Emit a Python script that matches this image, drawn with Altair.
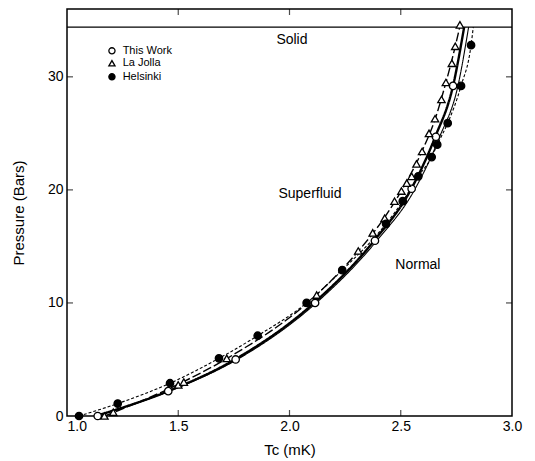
import altair as alt
import pandas as pd

# ---- data ----
tw_x = [1.138, 1.455, 1.758, 2.115, 2.384, 2.549, 2.658, 2.735]
tw_p = [0.0, 2.2, 5.0, 10.0, 15.5, 20.1, 24.7, 29.2]

lj_x = [1.168, 1.208, 1.500, 1.525, 1.718, 2.122, 2.309, 2.374, 2.428, 2.472, 2.503,
        2.527, 2.549, 2.571, 2.596, 2.627, 2.654, 2.683, 2.703, 2.730, 2.745, 2.766]
lj_p = [0.0, 0.33, 2.75, 3.0, 5.1, 10.7, 14.6, 16.2, 17.5, 19.0, 19.9,
        20.6, 21.2, 22.3, 23.4, 25.0, 26.3, 28.0, 29.5, 31.2, 32.7, 34.6]

he_x = [1.054, 1.228, 1.463, 1.683, 1.857, 2.077, 2.237, 2.434, 2.509, 2.579,
        2.639, 2.664, 2.711, 2.771, 2.816]
he_p = [0.0, 1.1, 2.9, 5.1, 7.1, 10.0, 12.9, 17.0, 19.0, 21.2,
        22.9, 24.0, 25.9, 29.2, 32.8]

# fitted curves
fit_tw_x = [1.13, 1.455, 1.755, 2.11, 2.38, 2.545, 2.655, 2.735, 2.785]
fit_tw_p = [0.0, 2.2, 5.0, 10.0, 15.5, 20.0, 24.7, 29.2, 34.4]
fit_tw2_x = [1.13, 1.46, 1.765, 2.12, 2.392, 2.562, 2.675, 2.757, 2.805]
fit_tw2_p = [0.0, 2.2, 5.0, 10.0, 15.5, 20.0, 24.7, 29.2, 34.4]
fit_lj_x = [1.17, 1.52, 1.72, 2.12, 2.31, 2.425, 2.505, 2.595, 2.655, 2.703, 2.745, 2.765]
fit_lj_p = [0.0, 3.0, 5.1, 10.7, 14.6, 17.5, 20.0, 23.4, 26.3, 29.5, 32.7, 34.4]
fit_he_x = [1.054, 1.228, 1.463, 1.683, 1.857, 2.077, 2.237, 2.434, 2.509, 2.579,
            2.639, 2.664, 2.711, 2.771, 2.816, 2.826]
fit_he_p = [0.0, 1.1, 2.9, 5.1, 7.1, 10.0, 12.9, 17.0, 19.0, 21.2,
            22.9, 24.0, 25.9, 29.2, 32.8, 34.4]

solid_line_p = 34.4
x_ticks = [1.5, 2.0, 2.5]
y_ticks = [10, 20, 30]
region_labels = ["Solid", "Superfluid", "Normal"]
region_x = [2.011, 2.092, 2.577]
region_p = [33.3, 19.6, 13.4]

series_order = ["This Work", "La Jolla", "Helsinki"]
legend_p = [32.3, 31.2, 30.0]
legend_marker_x = 1.202
legend_text_x = 1.25

FONT = "Liberation Sans"
XD = [1.0, 3.0]
YD = [0, 36]

shape_scale = alt.Scale(domain=series_order, range=["circle", "triangle-up", "circle"])
fill_scale = alt.Scale(domain=series_order, range=["white", "white", "black"])

pts = pd.DataFrame(
    [{"Tc": x, "P": p, "series": "This Work"} for x, p in zip(tw_x, tw_p)]
    + [{"Tc": x, "P": p, "series": "La Jolla"} for x, p in zip(lj_x, lj_p)]
    + [{"Tc": x, "P": p, "series": "Helsinki"} for x, p in zip(he_x, he_p)]
)
leg = pd.DataFrame({"series": series_order, "P": legend_p,
                    "Tc": [legend_marker_x] * 3, "Tt": [legend_text_x] * 3})

xs = alt.Scale(domain=XD, nice=False, zero=False)
ys = alt.Scale(domain=YD, nice=False, zero=True)

xaxis = alt.Axis(values=[1.0, 1.5, 2.0, 2.5, 3.0], format=".1f", ticks=False, domain=False,
                 grid=False, labelFontSize=14, labelFont=FONT, labelColor="black",
                 labelPadding=3, title="Tc (mK)", titleFont=FONT, titleFontSize=15,
                 titleFontWeight="normal", titleColor="black", titlePadding=9,
                 labelAlign=alt.condition("datum.value == 1", alt.value("left"), alt.value("center")))
yaxis = alt.Axis(values=[0, 10, 20, 30], ticks=False, domain=False, grid=False,
                 labelFontSize=14, labelFont=FONT, labelColor="black", labelPadding=4,
                 title="Pressure (Bars)", titleFont=FONT, titleFontSize=15,
                 titleFontWeight="normal", titleColor="black", titlePadding=21)

def line_layer(xv, pv, dash, width):
    df = pd.DataFrame({"Tc": xv, "P": pv, "o": list(range(len(xv)))})
    return alt.Chart(df).mark_line(color="black", strokeWidth=width, strokeDash=dash,
                                   interpolate="monotone").encode(
        x=alt.X("Tc:Q", scale=xs, axis=xaxis),
        y=alt.Y("P:Q", scale=ys, axis=yaxis),
        order="o:Q")

l_tw = line_layer(fit_tw_x, fit_tw_p, [1, 0], 2.4)
l_tw2 = line_layer(fit_tw2_x, fit_tw2_p, [1, 0], 1.1)
l_lj = line_layer(fit_lj_x, fit_lj_p, [9, 3], 1.4)
l_he = line_layer(fit_he_x, fit_he_p, [3, 2], 1.1)

points = alt.Chart(pts).mark_point(filled=True, size=55, stroke="black", strokeWidth=1.3,
                                   opacity=1).encode(
    x=alt.X("Tc:Q", scale=xs),
    y=alt.Y("P:Q", scale=ys),
    shape=alt.Shape("series:N", scale=shape_scale, legend=None),
    fill=alt.Fill("series:N", scale=fill_scale, legend=None),
)

leg_pts = alt.Chart(leg).mark_point(filled=True, size=38, stroke="black", strokeWidth=1.3,
                                    opacity=1).encode(
    x=alt.X("Tc:Q", scale=xs),
    y=alt.Y("P:Q", scale=ys),
    shape=alt.Shape("series:N", scale=shape_scale, legend=None),
    fill=alt.Fill("series:N", scale=fill_scale, legend=None),
)
leg_txt = alt.Chart(leg).mark_text(font=FONT, fontSize=11, color="black", align="left",
                                   baseline="middle").encode(
    x=alt.X("Tt:Q", scale=xs), y=alt.Y("P:Q", scale=ys), text="series:N")

solid_rule = alt.Chart(pd.DataFrame({"P": [solid_line_p]})).mark_rule(
    color="black", strokeWidth=1.3).encode(y=alt.Y("P:Q", scale=ys))

labels = alt.Chart(pd.DataFrame({"t": region_labels, "Tc": region_x, "P": region_p})).mark_text(
    font=FONT, fontSize=14, color="black").encode(
    x=alt.X("Tc:Q", scale=xs), y=alt.Y("P:Q", scale=ys), text="t:N")

tick_df_x = pd.DataFrame({"Tc": x_ticks})
tick_df_y = pd.DataFrame({"P": y_ticks})
bottom_t = alt.Chart(tick_df_x).mark_tick(orient="vertical", size=6, thickness=1.2,
                                          color="black", yOffset=-3).encode(
    x=alt.X("Tc:Q", scale=xs), y=alt.datum(0, scale=ys))
top_t = alt.Chart(tick_df_x).mark_tick(orient="vertical", size=6, thickness=1.2,
                                       color="black", yOffset=3).encode(
    x=alt.X("Tc:Q", scale=xs), y=alt.datum(36, scale=ys))
left_t = alt.Chart(tick_df_y).mark_tick(orient="horizontal", size=6, thickness=1.2,
                                        color="black", xOffset=3).encode(
    y=alt.Y("P:Q", scale=ys), x=alt.datum(1.0, scale=xs))
right_t = alt.Chart(tick_df_y).mark_tick(orient="horizontal", size=6, thickness=1.2,
                                         color="black", xOffset=-3).encode(
    y=alt.Y("P:Q", scale=ys), x=alt.datum(3.0, scale=xs))

chart = alt.layer(l_tw, l_tw2, l_lj, l_he, solid_rule, bottom_t, top_t, left_t, right_t,
                  labels, points, leg_pts, leg_txt).properties(
    width=445, height=407,
    autosize=alt.AutoSizeParams(type="none"),
    padding={"left": 59, "top": 1, "right": 15, "bottom": 60},
    background="white",
).configure_view(stroke="black", strokeWidth=1.5)

chart.save("out.html", embed_options={"renderer": "svg", "actions": False})
